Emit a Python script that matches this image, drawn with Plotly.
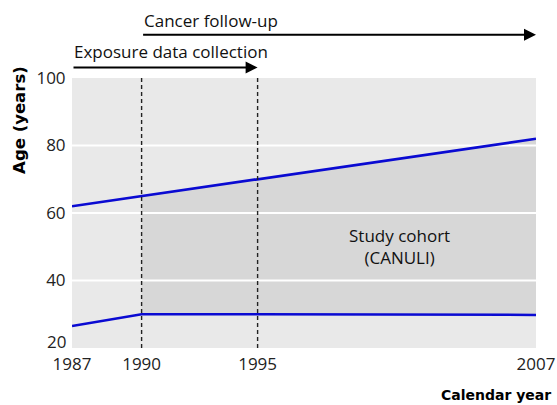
import plotly.graph_objects as go

# Data
years = [1987, 1990, 1995, 2007]
upper_age = [62, 65, 70, 82]
lower_age = [26.5, 30, 30, 29.8]
cohort_start = 1990
x_ticks = [1987, 1990, 1995, 2007]
y_ticks = [20, 40, 60, 80, 100]
x_range = [1987, 2007]
y_range = [20, 100]
dashed_years = [1990, 1995]
exposure_period = [1987, 1995]
followup_period = [1990, 2007]

FONT = "Open Sans"
BOLD_FONT = "DejaVu Sans"
BLUE = "#0a0ad2"

fig = go.Figure()

# cohort fill (years >= cohort_start)
fx = [y for y in years if y >= cohort_start]
fu = [u for y, u in zip(years, upper_age) if y >= cohort_start]
fl = [l for y, l in zip(years, lower_age) if y >= cohort_start]
fig.add_trace(go.Scatter(x=fx + fx[::-1], y=fu + fl[::-1], fill="toself",
                         fillcolor="#d7d7d7", line=dict(width=0),
                         mode="lines", hoverinfo="skip", showlegend=False))

# white grid lines drawn over the fill
for t in y_ticks[1:-1]:
    fig.add_trace(go.Scatter(x=x_range, y=[t, t], mode="lines",
                             line=dict(color="white", width=2),
                             hoverinfo="skip", showlegend=False))

fig.add_trace(go.Scatter(x=years, y=upper_age, mode="lines",
                         line=dict(color=BLUE, width=2.7), showlegend=False))
fig.add_trace(go.Scatter(x=years, y=lower_age, mode="lines",
                         line=dict(color=BLUE, width=2.5), showlegend=False))

shapes = []
for yr in dashed_years:
    shapes.append(dict(type="line", xref="x", yref="paper", x0=yr, x1=yr, y0=0, y1=1,
                       line=dict(color="#222222", width=1.4, dash="4px,3px"), layer="above"))

# bottom y tick label, lifted to clear the x tick labels
y_tick_text = ["" if i == 0 else str(v) for i, v in enumerate(y_ticks)]

annotations = [
    dict(x=0, y=y_ticks[0], xref="paper", yref="y", xanchor="right", yanchor="middle",
         xshift=-4, yshift=7, showarrow=False, text=str(y_ticks[0]),
         font=dict(family=FONT, size=17, color="#222")),
    dict(x=exposure_period[1], y=1.039, xref="x", yref="paper",
         ax=exposure_period[0], ay=0, axref="x", ayref="pixel",
         showarrow=True, arrowhead=2, arrowsize=1.2, arrowwidth=2, arrowcolor="#000",
         text=""),
    dict(x=followup_period[1], y=1.16, xref="x", yref="paper",
         ax=followup_period[0], ay=0, axref="x", ayref="pixel",
         showarrow=True, arrowhead=2, arrowsize=1.2, arrowwidth=2, arrowcolor="#000",
         text=""),
    dict(x=exposure_period[0], y=1.097, xref="x", yref="paper", xanchor="left",
         yanchor="middle", showarrow=False, text="Exposure data collection",
         font=dict(family=FONT, size=17, color="#111")),
    dict(x=followup_period[0], y=1.212, xref="x", yref="paper", xanchor="left",
         yanchor="middle", showarrow=False, text="Cancer follow-up",
         font=dict(family=FONT, size=17, color="#111")),
    dict(x=2001.1, y=50, xref="x", yref="y", showarrow=False,
         text="Study cohort<br>(CANULI)", align="center",
         font=dict(family=FONT, size=17, color="#111")),
    dict(x=-0.112, y=0.845, xref="paper", yref="paper", textangle=-90,
         xanchor="center", yanchor="middle",
         showarrow=False, text="<b>Age (years)</b>",
         font=dict(family=BOLD_FONT, size=16.5, color="#000")),
    dict(x=1.037, y=-0.173, xref="paper", yref="paper", xanchor="right",
         yanchor="middle",
         showarrow=False, text="<b>Calendar year</b>",
         font=dict(family=BOLD_FONT, size=14, color="#000")),
]

fig.update_layout(
    width=557, height=405,
    margin=dict(l=72, r=21, t=78, b=57, autoexpand=False),
    paper_bgcolor="white", plot_bgcolor="#e9e9e9",
    shapes=shapes, annotations=annotations,
    font=dict(family=FONT, size=17, color="#222"),
)
fig.update_xaxes(range=x_range, tickvals=x_ticks, showgrid=False, zeroline=False,
                 automargin=False,
                 ticks="outside", ticklen=1, tickcolor="rgba(0,0,0,0)",
                 tickfont=dict(family=FONT, size=17, color="#222"))
fig.update_yaxes(range=y_range, tickvals=y_ticks, ticktext=y_tick_text,
                 showgrid=False, zeroline=False, automargin=False,
                 ticks="outside", ticklen=2, tickcolor="rgba(0,0,0,0)",
                 tickfont=dict(family=FONT, size=17, color="#222"))

fig.write_html("out.html", config={"displayModeBar": False},
               post_script="document.body.style.margin='0';document.body.style.overflow='hidden';")
